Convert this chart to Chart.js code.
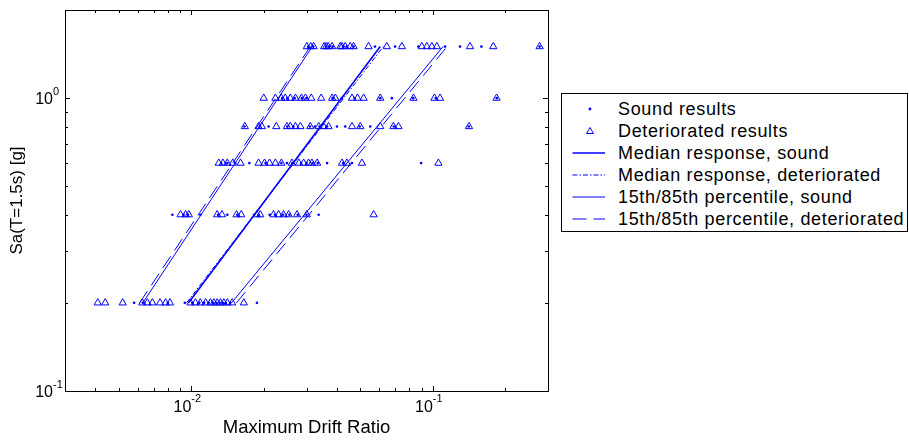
<!DOCTYPE html>
<html>
<head>
<meta charset="utf-8">
<script src="https://cdn.jsdelivr.net/npm/chart.js@4.4.1/dist/chart.umd.min.js"></script>
<style>
	body { margin: 0; background: #fff; }
	#wrap { position: relative; width: 909px; height: 440px; }
	#legend {
		position: absolute; left: 561px; top: 93px; width: 345px; height: 137px;
		border: 1px solid #000; background: #fff;
		font-family: "Liberation Sans", Arial, sans-serif; font-size: 18px; letter-spacing: 0.65px;
	}
	.row { position: absolute; left: 0; height: 22px; line-height: 22px; white-space: nowrap; }
	.row svg { position: absolute; left: 0; top: 0; }
	.row span { position: absolute; left: 56px; top: 0; color: #000; }
</style>
</head>
<body>
<div id="wrap">
	<canvas id="chart" width="909" height="440"></canvas>
	<div id="legend"></div>
</div>
<script>
// intensity levels (Sa, g) the analyses were run at
const levels = [0.2, 0.4, 0.6, 0.8, 1.0, 1.5];

// drift ratios per level, sound structure (dots)
const soundDrift = [
	[0.0058, 0.0063, 0.0080, 0.0094, 0.0101, 0.0108, 0.0113, 0.0118, 0.0123, 0.0127, 0.0131, 0.0135, 0.0139, 0.0145, 0.0187],
	[0.00835, 0.0093, 0.0097, 0.0109, 0.0129, 0.0141, 0.0155, 0.0182, 0.0190, 0.0211, 0.0222, 0.0240, 0.0255, 0.0276, 0.0300, 0.0337],
	[0.0133, 0.0141, 0.0152, 0.0174, 0.0203, 0.0236, 0.0249, 0.0262, 0.0285, 0.0300, 0.0318, 0.0334, 0.0365, 0.0425, 0.0463, 0.0895],
	[0.0166, 0.0192, 0.0209, 0.0250, 0.0265, 0.0310, 0.0325, 0.0340, 0.0365, 0.0401, 0.0434, 0.0498, 0.0551, 0.0690, 0.1410],
	[0.0238, 0.0250, 0.0268, 0.0287, 0.0300, 0.0385, 0.0420, 0.0475, 0.0606, 0.0677, 0.0830, 0.1030, 0.1840],
	[0.0305, 0.0320, 0.0362, 0.0372, 0.0385, 0.0425, 0.0440, 0.0470, 0.0576, 0.0698, 0.0872, 0.1124, 0.1297, 0.1590, 0.2770]
];

// drift ratios per level, deteriorated structure (triangles)
const deterDrift = [
	[0.0041, 0.0044, 0.0052, 0.00627, 0.00658, 0.0069, 0.00742, 0.00783, 0.00816, 0.00993, 0.0104, 0.0109, 0.01146, 0.0120, 0.0124, 0.0128, 0.0132, 0.01364, 0.0141, 0.01477, 0.0165],
	[0.00903, 0.00947, 0.00977, 0.0128, 0.0134, 0.0154, 0.0161, 0.0187, 0.0193, 0.0219, 0.0230, 0.0241, 0.0253, 0.0274, 0.0301, 0.0569],
	[0.0130, 0.01352, 0.0141, 0.01486, 0.0160, 0.0190, 0.0201, 0.0211, 0.0223, 0.0236, 0.0261, 0.0279, 0.0292, 0.0306, 0.0316, 0.0332, 0.0421, 0.0441, 0.0509, 0.1055],
	[0.01666, 0.0190, 0.0196, 0.0225, 0.0249, 0.0257, 0.0270, 0.0283, 0.0311, 0.0337, 0.0353, 0.0370, 0.0463, 0.0501, 0.0606, 0.0687, 0.0721, 0.1413],
	[0.01995, 0.0223, 0.0236, 0.0245, 0.0257, 0.0270, 0.0286, 0.0297, 0.0314, 0.0345, 0.0383, 0.0395, 0.0463, 0.0488, 0.0517, 0.0606, 0.0832, 0.1016, 0.1072, 0.1837],
	[0.0301, 0.0312, 0.0321, 0.0355, 0.0362, 0.0369, 0.0383, 0.0414, 0.0421, 0.0434, 0.0455, 0.0470, 0.0542, 0.0645, 0.0745, 0.0901, 0.0945, 0.0991, 0.1039, 0.1426, 0.1780, 0.2770]
];

// fitted response lines, drift at the lowest and highest level
const lineLevels = [0.2, 1.5];
const medianSound = [0.00975, 0.0606];
const medianDeter = [0.00956, 0.0624];
const pct15Sound = [0.0063, 0.0317];
const pct85Sound = [0.01468, 0.1103];
const pct15Deter = [0.00611, 0.0311];
const pct85Deter = [0.01539, 0.1146];

// axis ticks (matlab style log axes)
const xMajorTicks = [0.01, 0.1];
const xMinorTicks = [0.004, 0.005, 0.006, 0.007, 0.008, 0.009, 0.02, 0.03, 0.04, 0.05, 0.06, 0.07, 0.08, 0.09, 0.2, 0.3];
const xTickExp = ["-2", "-1"];
const yMajorTicks = [0.1, 1];
const yMinorTicks = [0.2, 0.3, 0.4, 0.5, 0.6, 0.7, 0.8, 0.9, 2];
const yTickExp = ["-1", "0"];

const BLUE = "#0000ff";
const FONT = '"Liberation Sans", Arial, sans-serif';

function scatterPoints(rows) {
	return levels.flatMap((lv, i) => rows[i].map((d) => ({ x: d, y: lv })));
}

function linePoints(xs) {
	return xs.map((d, i) => ({ x: d, y: lineLevels[i] }));
}

function lineSet(label, xs, width, dash, inLegend) {
	return {
		label: label,
		data: linePoints(xs),
		showLine: true,
		pointRadius: 0,
		borderColor: BLUE,
		borderWidth: width,
		borderDash: dash,
		inLegend: inLegend,
	};
}

const datasets = [
	{
		label: "Sound results",
		data: scatterPoints(soundDrift),
		pointStyle: "circle",
		pointRadius: 1.3,
		backgroundColor: BLUE,
		borderColor: BLUE,
		borderWidth: 0,
		inLegend: true,
		marker: "dot",
	},
	{
		label: "Deteriorated results",
		data: scatterPoints(deterDrift),
		pointStyle: "triangle",
		pointRadius: 4.2,
		backgroundColor: "rgba(0,0,0,0)",
		borderColor: BLUE,
		borderWidth: 1,
		inLegend: true,
		marker: "triangle",
	},
	lineSet("Median response, sound", medianSound, 1.6, [], true),
	lineSet("Median response, deteriorated", medianDeter, 1, [5, 2, 1.5, 2], true),
	lineSet("15th/85th percentile, sound", pct15Sound, 1, [], true),
	lineSet("15th/85th percentile, sound", pct85Sound, 1, [], false),
	lineSet("15th/85th percentile, deteriorated", pct15Deter, 1, [14, 7], true),
	lineSet("15th/85th percentile, deteriorated", pct85Deter, 1, [14, 7], false),
];

// box, inward ticks and 10^n labels
const axisBox = {
	id: "axisBox",
	afterDraw(chart) {
		const { ctx, chartArea: a, scales } = chart;
		const x = scales.x, y = scales.y;
		ctx.save();
		ctx.strokeStyle = "#000";
		ctx.lineWidth = 1;
		ctx.strokeRect(a.left + 0.5, a.top + 0.5, a.right - a.left, a.bottom - a.top);
		ctx.beginPath();
		xMajorTicks.concat(xMinorTicks).forEach((v) => {
			const len = xMajorTicks.includes(v) ? 5 : 3;
			const px = Math.round(x.getPixelForValue(v)) + 0.5;
			ctx.moveTo(px, a.bottom); ctx.lineTo(px, a.bottom - len);
			ctx.moveTo(px, a.top); ctx.lineTo(px, a.top + len);
		});
		yMajorTicks.concat(yMinorTicks).forEach((v) => {
			const len = yMajorTicks.includes(v) ? 5 : 3;
			const py = Math.round(y.getPixelForValue(v)) + 0.5;
			ctx.moveTo(a.left, py); ctx.lineTo(a.left + len, py);
			ctx.moveTo(a.right, py); ctx.lineTo(a.right - len, py);
		});
		ctx.stroke();

		ctx.fillStyle = "#000";
		ctx.textBaseline = "middle";
		xMajorTicks.forEach((v, i) => {
			const px = x.getPixelForValue(v);
			ctx.font = "16px " + FONT;
			ctx.textAlign = "right";
			ctx.fillText("10", px, a.bottom + 17);
			ctx.font = "11px " + FONT;
			ctx.textAlign = "left";
			ctx.fillText(xTickExp[i], px, a.bottom + 8);
		});
		yMajorTicks.forEach((v, i) => {
			const py = y.getPixelForValue(v);
			ctx.font = "16px " + FONT;
			ctx.textAlign = "right";
			ctx.fillText("10", 53, py + 1.5);
			ctx.font = "11px " + FONT;
			ctx.textAlign = "left";
			ctx.fillText(yTickExp[i], 53, py - 6.5);
		});
		ctx.restore();
	},
};

const chart = new Chart(document.getElementById("chart"), {
	type: "scatter",
	data: { datasets: datasets },
	options: {
		responsive: false,
		animation: false,
		layout: { padding: { left: 0, top: 10, right: 361, bottom: 0 } },
		plugins: { legend: { display: false }, tooltip: { enabled: false } },
		scales: {
			x: {
				type: "logarithmic",
				min: 0.003,
				max: 0.3,
				grid: { display: false },
				border: { display: false },
				ticks: { display: false },
				title: {
					display: true,
					text: "Maximum Drift Ratio",
					color: "#000",
					font: { family: FONT, size: 18.5 },
					padding: { top: 0, bottom: 1 },
				},
				afterFit(scale) { scale.height = 49; },
			},
			y: {
				type: "logarithmic",
				min: 0.1,
				max: 2,
				grid: { display: false },
				border: { display: false },
				ticks: { display: false },
				title: {
					display: true,
					text: "Sa(T=1.5s) [g]",
					color: "#000",
					font: { family: FONT, size: 17 },
					padding: { top: 7, bottom: 0 },
				},
				afterFit(scale) { scale.width = 65; },
			},
		},
	},
	plugins: [axisBox],
});

// legend box to the right of the axes
function sampleSvg(ds) {
	let inner;
	if (ds.marker === "dot") {
		inner = '<circle cx="28" cy="11" r="1.4" fill="' + BLUE + '"/>';
	} else if (ds.marker === "triangle") {
		inner = '<polygon points="28,7.5 31.5,13.5 24.5,13.5" fill="none" stroke="' + BLUE + '" stroke-width="1"/>';
	} else {
		const dash = ds.borderDash.length ? ' stroke-dasharray="' + ds.borderDash.join(" ") + '"' : "";
		inner = '<line x1="10.5" y1="11" x2="43" y2="11" stroke="' + BLUE + '" stroke-width="' + ds.borderWidth + '"' + dash + "/>";
	}
	return '<svg width="50" height="22">' + inner + "</svg>";
}

function generateLegend(chart) {
	const box = document.getElementById("legend");
	chart.data.datasets.filter((ds) => ds.inLegend).forEach((ds, i) => {
		const row = document.createElement("div");
		row.className = "row";
		row.style.top = (4 + i * 21.9) + "px";
		row.innerHTML = sampleSvg(ds);
		const span = document.createElement("span");
		span.innerText = ds.label;
		row.appendChild(span);
		box.appendChild(row);
	});
}

generateLegend(chart);
</script>
</body>
</html>
